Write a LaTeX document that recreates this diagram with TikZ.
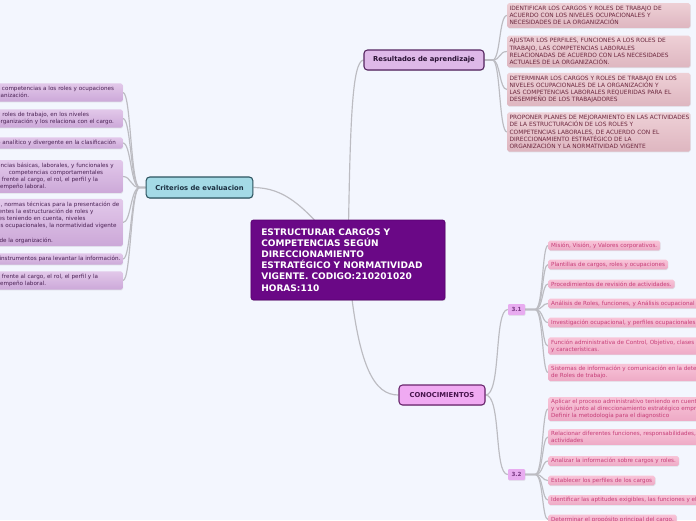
\documentclass[tikz,border=0pt]{standalone}
\usepackage{fontspec}
\setmainfont{DejaVu Sans}
\usepackage{xcolor}
\usepackage{tikz}
\usetikzlibrary{shadows}
\definecolor{pagebg}{RGB}{243,246,254}
\definecolor{linkgray}{RGB}{188,188,194}
\definecolor{cenfill}{RGB}{106,8,134}
\definecolor{cenline}{RGB}{88,0,112}
\definecolor{critfill}{RGB}{164,218,230}
\definecolor{critline}{RGB}{44,84,96}
\definecolor{critink}{RGB}{28,48,66}
\definecolor{resfill}{RGB}{222,184,232}
\definecolor{resline}{RGB}{84,36,96}
\definecolor{resink}{RGB}{40,16,50}
\definecolor{confill}{RGB}{240,170,242}
\definecolor{conline}{RGB}{104,36,108}
\definecolor{conink}{RGB}{70,20,76}
\definecolor{subfill}{RGB}{232,172,240}
\definecolor{subink}{RGB}{120,56,130}
\definecolor{evaltop}{RGB}{226,200,234}
\definecolor{evalbot}{RGB}{204,168,216}
\definecolor{evalink}{RGB}{74,34,84}
\definecolor{restop}{RGB}{238,208,214}
\definecolor{resbot}{RGB}{222,182,192}
\definecolor{resleafink}{RGB}{108,40,62}
\definecolor{pinktop}{RGB}{248,196,216}
\definecolor{pinkbot}{RGB}{238,170,198}
\definecolor{pinkink}{RGB}{198,62,120}
\pgfdeclarelayer{background}
\pgfsetlayers{background,main}
\tikzset{
  centre/.style={rectangle, draw=cenline, fill=cenfill, text=white,
    font=\fontsize{7.7}{9.5}\selectfont\bfseries, align=left,
    text width=5.2cm, minimum width=5.82cm, minimum height=2.4cm,
    inner xsep=0.3cm, rounded corners=2pt, line width=0.6pt,
    drop shadow={shadow xshift=0.6pt, shadow yshift=-0.8pt, opacity=0.25}},
  topic/.style={rectangle, rounded corners=3pt, line width=0.9pt,
    font=\fontsize{5.8}{6.8}\selectfont\bfseries, inner sep=2pt,
    drop shadow={shadow xshift=0.5pt, shadow yshift=-0.7pt, opacity=0.25}},
  critbox/.style={topic, draw=critline, fill=critfill, text=critink,
    minimum width=3.2cm, minimum height=0.63cm},
  resbox/.style={topic, draw=resline, fill=resfill, text=resink,
    minimum width=3.6cm, minimum height=0.6cm},
  conbox/.style={topic, draw=conline, fill=confill, text=conink,
    minimum width=2.58cm, minimum height=0.6cm},
  subbox/.style={rectangle, rounded corners=1pt, fill=subfill, text=subink,
    font=\fontsize{4.8}{5.8}\selectfont\bfseries, inner sep=1pt,
    minimum width=0.51cm, minimum height=0.33cm,
    drop shadow={shadow xshift=0.4pt, shadow yshift=-0.6pt, opacity=0.2}},
  leaf/.style={rectangle, rounded corners=1.5pt, align=left,
    font=\fontsize{4.8}{6.1}\selectfont, inner xsep=2.5pt, inner ysep=1.8pt,
    drop shadow={shadow xshift=0.4pt, shadow yshift=-0.6pt, opacity=0.18}},
  evalleaf/.style={leaf, top color=evaltop, bottom color=evalbot, text=evalink,
    anchor=east, text width=3.68cm, inner ysep=2.4pt},
  resleaf/.style={leaf, top color=restop, bottom color=resbot, text=resleafink,
    anchor=west, text width=5.35cm, inner xsep=2pt, inner ysep=2.6pt,
    font=\fontsize{5}{6.1}\selectfont},
  pinkleaf/.style={leaf, top color=pinktop, bottom color=pinkbot, text=pinkink,
    anchor=west},
  link/.style={draw=linkgray, line width=1pt}
}

\begin{document}
\begin{tikzpicture}[x=0.03cm, y=-0.03cm]
  \useasboundingbox (0,0) rectangle (696,520);
  \begin{pgfonlayer}{background}
    \fill[pagebg] (0,0) rectangle (696,520);
  \end{pgfonlayer}

  % Central topic
  \node[centre] (core) at (348,260)
    {ESTRUCTURAR CARGOS Y\\ COMPETENCIAS SEGÚN\\ DIRECCIONAMIENTO\\
     ESTRATÉGICO Y NORMATIVIDAD\\ VIGENTE. CODIGO:210201020\\ HORAS:110};

  % Main branches
  \node[critbox] (crit) at (199.5,187.5) {Criterios de evaluacion};
  \node[resbox] (res) at (424,60) {Resultados de aprendizaje};
  \node[conbox] (con) at (442,395) {CONOCIMIENTOS};
  \node[subbox] (t31) at (516.5,309.5) {3.1};
  \node[subbox] (t32) at (516.5,474.5) {3.2};

  % Criterios leaves (cut by the left edge)
  \node[evalleaf] (ev1) at (123,92.5)
    {\mbox{s competencias a los roles y ocupaciones}\\ ganización.};
  \node[evalleaf] (ev2) at (123,118.5)
    {y roles de trabajo, en los niveles\\ \mbox{organización y los relaciona con el cargo.}};
  \node[evalleaf] (ev3) at (123,143)
    {\mbox{o analítico y divergente en la clasificación}};
  \node[evalleaf] (ev4) at (123,176.5)
    {\mbox{encias básicas, laborales, y funcionales y}\\
     \hspace*{10pt}competencias comportamentales\\
     s frente al cargo, el rol, el perfil y la\\ sempeño laboral.};
  \node[evalleaf] (ev5) at (123,222.5)
    {\mbox{a, normas técnicas para la presentación de}\\
     ientes la estructuración de roles y\\
     les teniendo en cuenta, niveles\\
     \mbox{es ocupacionales, la normatividad vigente}\\[6.1pt]
     \hspace*{2pt}de la organización.};
  \node[evalleaf] (ev6) at (123,259)
    {\hspace*{2pt}\mbox{instrumentos para levantar la información.}};
  \node[evalleaf] (ev7) at (123,280.5)
    {\mbox{s frente al cargo, el rol, el perfil y la}\\ sempeño laboral.};

  % Resultados leaves
  \node[resleaf] (rs1) at (507,15.5)
    {IDENTIFICAR LOS CARGOS Y ROLES DE TRABAJO DE\\
     ACUERDO CON LOS NIVELES OCUPACIONALES Y\\
     NECESIDADES DE LA ORGANIZACIÓN};
  \node[resleaf] (rs2) at (507,51.5)
    {AJUSTAR LOS PERFILES, FUNCIONES A LOS ROLES DE\\
     TRABAJO, LAS COMPETENCIAS LABORALES\\
     \mbox{RELACIONADAS DE ACUERDO CON LAS NECESIDADES}\\
     ACTUALES DE LA ORGANIZACIÓN.};
  \node[resleaf] (rs3) at (507,89.5)
    {\mbox{DETERMINAR LOS CARGOS Y ROLES DE TRABAJO EN LOS}\\
     NIVELES OCUPACIONALES DE LA ORGANIZACIÓN Y\\
     \mbox{LAS COMPETENCIAS LABORALES REQUERIDAS PARA EL}\\
     DESEMPEÑO DE LOS TRABAJADORES};
  \node[resleaf] (rs4) at (507,132)
    {\mbox{PROPONER PLANES DE MEJORAMIENTO EN LAS ACTIVIDADES}\\
     DE LA ESTRUCTURACIÓN DE LOS ROLES Y\\
     COMPETENCIAS LABORALES, DE ACUERDO CON EL\\
     DIRECCIONAMIENTO ESTRATÉGICO DE LA\\
     ORGANIZACIÓN Y LA NORMATIVIDAD VIGENTE};

  % 3.1 leaves
  \node[pinkleaf] (p1) at (548,245.5) {Misión, Visión, y Valores corporativos.};
  \node[pinkleaf] (p2) at (548,264.5) {Plantillas de cargos, roles y ocupaciones};
  \node[pinkleaf] (p3) at (548,284) {Procedimientos de revisión de actividades.};
  \node[pinkleaf] (p4) at (548,303.5) {Análisis de Roles, funciones, y Análisis ocupacional};
  \node[pinkleaf] (p5) at (548,322.5) {Investigación ocupacional, y perfiles ocupacionales.};
  \node[pinkleaf] (p6) at (548,346)
    {Función administrativa de Control, Objetivo, clases de\\ y características.};
  \node[pinkleaf] (p7) at (548,372.5)
    {Sistemas de información y comunicación en la determinación\\ de Roles de trabajo.};

  % 3.2 leaves
  \node[pinkleaf] (q1) at (548,409)
    {Aplicar el proceso administrativo teniendo en cuenta\\
     y visión junto al direccionamiento estratégico empresarial\\
     Definir la metodología para el diagnostico};
  \node[pinkleaf] (q2) at (548,437)
    {Relacionar diferentes funciones, responsabilidades, y\\ actividades};
  \node[pinkleaf] (q3) at (548,461) {Analizar la información sobre cargos y roles.};
  \node[pinkleaf] (q4) at (548,480.5) {Establecer los perfiles de los cargos};
  \node[pinkleaf] (q5) at (548,500) {Identificar las aptitudes exigibles, las funciones y el};
  \node[pinkleaf] (q6) at (548,519.5) {Determinar el propósito principal del cargo.};

  % Connectors
  \begin{pgfonlayer}{background}
    \draw[link] (crit.east) .. controls (285,188) and (305,205) .. (core.center);
    \draw[link] (res.west) .. controls (352,62) and (350,120) .. (core.center);
    \draw[link] (core.center) .. controls (357,370) and (375,395) .. (con.west);
    \foreach \i in {1,...,7}
      \draw[link] (crit.west) -- ++(-6,0) .. controls +(-9,0) and +(8,0) .. (ev\i.east);
    \foreach \i in {1,...,4}
      \draw[link] (res.east) -- ++(8,0) .. controls +(8,0) and +(-8,0) .. (rs\i.west);
    \draw[link] (con.east) .. controls +(16,0) and +(-14,0) .. (t31.west);
    \draw[link] (con.east) .. controls +(16,0) and +(-14,0) .. (t32.west);
    \foreach \i in {1,...,7}
      \draw[link] (t31.east) -- ++(10,0) .. controls +(8,0) and +(-6,0) .. (p\i.west);
    \foreach \i in {1,...,6}
      \draw[link] (t32.east) -- ++(10,0) .. controls +(8,0) and +(-6,0) .. (q\i.west);
  \end{pgfonlayer}
\end{tikzpicture}
\end{document}
